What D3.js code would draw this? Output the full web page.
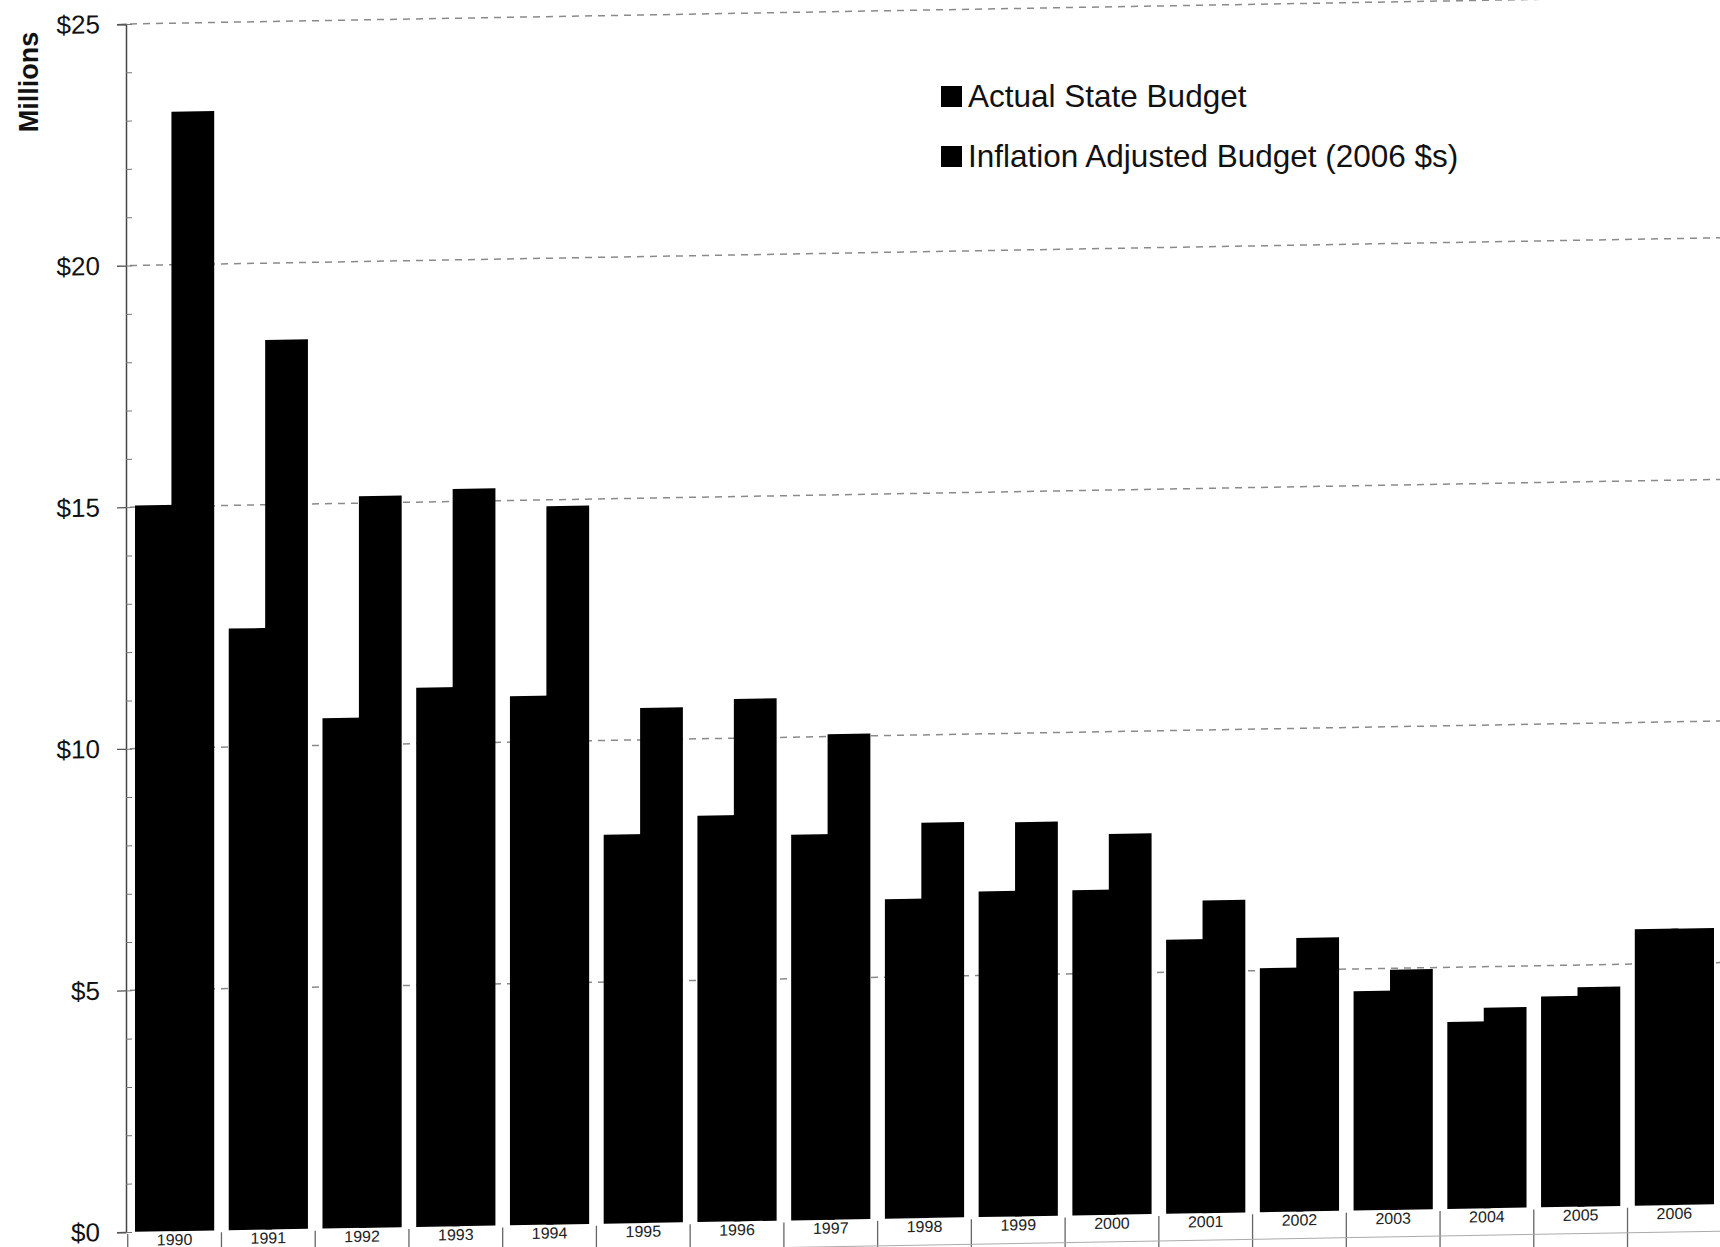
<!DOCTYPE html>
<html>
<head>
<meta charset="utf-8">
<script src="https://cdn.jsdelivr.net/npm/d3@7"></script>
<style>
  html, body { margin: 0; padding: 0; background: #ffffff; }
  svg { display: block; }
</style>
</head>
<body>
<svg id="chart" width="1720" height="1247"></svg>
<script>
// ---- data ----
const years = ["1990","1991","1992","1993","1994","1995","1996","1997","1998","1999","2000","2001","2002","2003","2004","2005","2006"];
const actualBudget = [15.03, 12.45, 10.56, 11.16, 10.95, 8.05, 8.41, 7.98, 6.61, 6.74, 6.73, 5.67, 5.05, 4.54, 3.87, 4.36, 5.72];
const inflationBudget = [23.17, 18.41, 15.14, 15.26, 14.87, 10.66, 10.81, 10.05, 8.18, 8.16, 7.88, 6.47, 5.66, 4.97, 4.15, 4.54, 5.72];
const yTicks = [0, 5, 10, 15, 20, 25];
const seriesNames = ["Actual State Budget", "Inflation Adjusted Budget (2006 $s)"];
const yTitle = "Millions";

// ---- layout ----
const svg = d3.select("#chart");
svg.append("rect").attr("width", 1720).attr("height", 1247).attr("fill", "#ffffff");

const axisX = 126, baseY = 1232, topY = 24;
const x = d3.scaleBand().domain(years).range([axisX, 1723]).paddingInner(0.155).paddingOuter(0.096);
const y = d3.scaleLinear().domain([0, 25]).range([baseY, topY]);
const split = 0.46;

// scanned page is slightly skewed: right side higher
const g = svg.append("g")
  .attr("transform", `translate(${axisX},${baseY}) skewY(-1) translate(${-axisX},${-baseY})`);

// gridlines
g.append("g").selectAll("line")
  .data(yTicks.filter(d => d > 0))
  .join("line")
  .attr("x1", axisX + 4).attr("x2", 1760)
  .attr("y1", d => y(d)).attr("y2", d => y(d))
  .attr("stroke", "#8a8a8a").attr("stroke-width", 1.5)
  .attr("stroke-dasharray", "7,6");

// bars
const groups = g.append("g").selectAll("g")
  .data(years)
  .join("g");

groups.append("rect")
  .attr("x", d => x(d))
  .attr("width", x.bandwidth() * 0.55)
  .attr("y", (d, i) => y(actualBudget[i]))
  .attr("height", (d, i) => y(0) - y(actualBudget[i]))
  .attr("fill", "#000");

groups.append("rect")
  .attr("x", d => x(d) + x.bandwidth() * split)
  .attr("width", x.bandwidth() * (1 - split))
  .attr("y", (d, i) => y(inflationBudget[i]))
  .attr("height", (d, i) => y(0) - y(inflationBudget[i]))
  .attr("fill", "#000");

// category separators and labels (data-table style)
const step = x.step();
const bounds = years.map(d => x(d) - (step - x.bandwidth()) / 2);
g.append("g").selectAll("line")
  .data(bounds)
  .join("line")
  .attr("x1", d => d).attr("x2", d => d)
  .attr("y1", baseY + 2).attr("y2", baseY + 60)
  .attr("stroke", "#666").attr("stroke-width", 1.3);

g.append("line")
  .attr("x1", axisX).attr("x2", 1720)
  .attr("y1", baseY + 27).attr("y2", baseY + 27)
  .attr("stroke", "#aaa").attr("stroke-width", 1);

g.append("g").selectAll("text")
  .data(years)
  .join("text")
  .attr("x", d => x(d) + x.bandwidth() / 2)
  .attr("y", baseY + 14)
  .attr("text-anchor", "middle")
  .attr("font-family", "'Liberation Sans Narrow', 'Liberation Sans', Arial, sans-serif")
  .attr("font-size", 16)
  .attr("fill", "#222")
  .text(d => d);

// y axis
const yAxis = d3.axisLeft(y).tickValues(yTicks).tickSize(9).tickPadding(17).tickFormat(d => "$" + d);
const ya = g.append("g").attr("transform", `translate(${axisX},0)`).call(yAxis);
ya.select(".domain").attr("stroke", "#444").attr("stroke-width", 1.5);
ya.selectAll(".tick line").attr("stroke", "#555").attr("stroke-width", 1.3);
ya.selectAll(".tick text")
  .attr("font-family", "'Liberation Sans', Arial, sans-serif")
  .attr("font-size", 26).attr("fill", "#111");

const minor = d3.axisRight(y).tickValues(d3.range(0, 26, 1)).tickSize(6).tickFormat("");
const ym = g.append("g").attr("transform", `translate(${axisX},0)`).call(minor);
ym.select(".domain").remove();
ym.selectAll(".tick line").attr("stroke", "#777").attr("stroke-width", 1);

// y title
svg.append("text")
  .attr("transform", "translate(38,82) rotate(-90)")
  .attr("text-anchor", "middle")
  .attr("font-family", "'Liberation Sans', Arial, sans-serif")
  .attr("font-size", 27).attr("font-weight", "bold").attr("fill", "#111")
  .text(yTitle);

// legend
const legend = svg.append("g").attr("transform", "translate(941,0)");
const legendY = [96, 156];
legend.selectAll("rect")
  .data(seriesNames)
  .join("rect")
  .attr("x", 0).attr("y", (d, i) => legendY[i] - 10)
  .attr("width", 21).attr("height", 21)
  .attr("fill", "#000");
legend.selectAll("text")
  .data(seriesNames)
  .join("text")
  .attr("x", 27).attr("y", (d, i) => legendY[i] + 11)
  .attr("font-family", "'Liberation Sans', Arial, sans-serif")
  .attr("font-size", 31.5).attr("fill", "#111")
  .text(d => d);
</script>
</body>
</html>
